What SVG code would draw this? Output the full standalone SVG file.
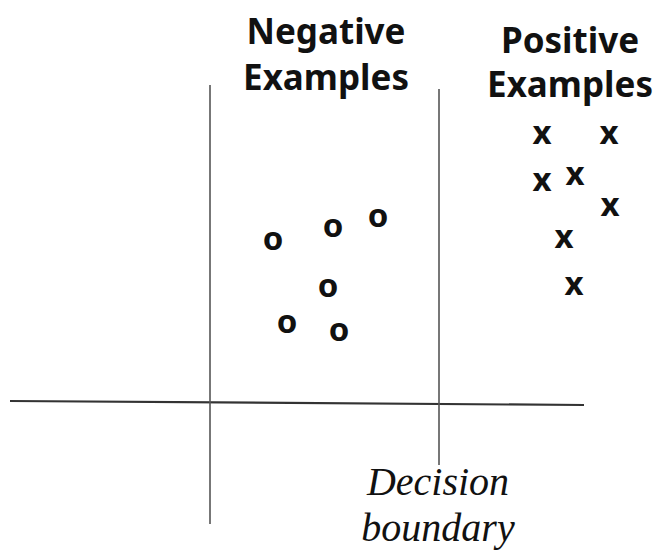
<svg xmlns="http://www.w3.org/2000/svg" width="659" height="552" viewBox="0 0 659 552">
<style>
.hdr{font-family:"Noto Sans","Open Sans","Liberation Sans",sans-serif;font-weight:bold;font-size:35px;fill:#111;text-anchor:middle}
.pt{font-family:"Noto Sans","Open Sans","Liberation Sans",sans-serif;font-weight:bold;font-size:33px;fill:#111;text-anchor:middle}
.lbl{font-family:"Liberation Serif",serif;font-style:italic;font-size:40px;fill:#111;text-anchor:middle}
.axis{stroke:#555;stroke-width:1.6;fill:none}
</style>
<rect width="659" height="552" fill="#fff"/>
<g id="connectors">
<line class="axis" x1="10" y1="401" x2="584" y2="405" style="stroke:#333;stroke-width:2.2"/>
<line class="axis" x1="210" y1="85" x2="210" y2="524"/>
<line class="axis" x1="439" y1="89" x2="439" y2="465"/>
</g>
<g id="negative-label"><text class="hdr" x="326" y="44">Negative</text><text class="hdr" x="326" y="90">Examples</text></g>
<g id="positive-label"><text class="hdr" x="570" y="53">Positive</text><text class="hdr" x="570" y="97">Examples</text></g>
<g id="decision-label"><text class="lbl" x="438" y="495">Decision</text><text class="lbl" x="438" y="541">boundary</text></g>
<g id="negatives">
<text class="pt" x="273" y="250">o</text>
<text class="pt" x="333" y="237">o</text>
<text class="pt" x="378" y="227">o</text>
<text class="pt" x="328" y="297">o</text>
<text class="pt" x="287" y="333">o</text>
<text class="pt" x="339" y="341">o</text>
</g>
<g id="positives">
<text class="pt" x="542" y="144">x</text>
<text class="pt" x="609" y="144">x</text>
<text class="pt" x="542" y="191">x</text>
<text class="pt" x="575" y="185">x</text>
<text class="pt" x="610" y="216">x</text>
<text class="pt" x="564" y="248">x</text>
<text class="pt" x="574" y="295">x</text>
</g>
</svg>
